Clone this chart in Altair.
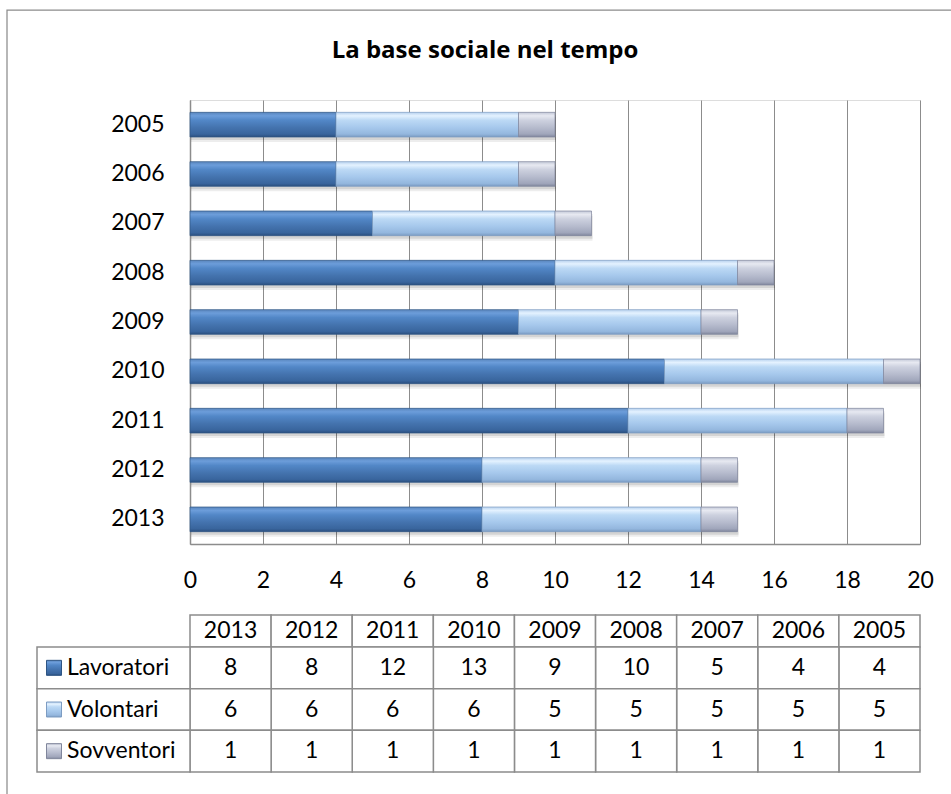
import altair as alt
import pandas as pd

# ---- data -------------------------------------------------------------
years = [2005, 2006, 2007, 2008, 2009, 2010, 2011, 2012, 2013]
lavoratori = [4, 4, 5, 10, 9, 13, 12, 8, 8]
volontari = [5, 5, 5, 5, 5, 6, 6, 6, 6]
sovventori = [1, 1, 1, 1, 1, 1, 1, 1, 1]
series_names = ["Lavoratori", "Volontari", "Sovventori"]
x_ticks = [0, 2, 4, 6, 8, 10, 12, 14, 16, 18, 20]
table_years = years[::-1]          # data table runs 2013 -> 2005

series_values = [lavoratori, volontari, sovventori]
rows = []
for i, yr in enumerate(years):
    for k, name in enumerate(series_names):
        rows.append({"anno": str(yr), "serie": name,
                     "valore": series_values[k][i], "ordine": k})
df = pd.DataFrame(rows)

header_df = pd.DataFrame({"anno": [str(y) for y in table_years], "riga": "anno"})
legend_df = pd.DataFrame({"serie": series_names, "col": "legenda"})

# ---- styling ----------------------------------------------------------
FONT = "Lato"
FS = 23
GRID = "#8c8c8c"
W, H = 730, 444


def grad(stops):
    return alt.Gradient(
        gradient="linear", x1=0, y1=0, x2=0, y2=1,
        stops=[alt.GradientStop(offset=o, color=c) for o, c in stops],
    )


fills = {
    "Lavoratori": (grad([(0, "#5a86bd"), (0.14, "#6c9dda"), (0.32, "#5287c7"),
                         (0.62, "#4473ae"), (0.88, "#39659d"), (1, "#2b4f7e")]),
                   "#2e5584"),
    "Volontari": (grad([(0, "#b7d1ee"), (0.14, "#e4f2ff"), (0.32, "#bcd9f5"),
                        (0.62, "#a6c8ec"), (0.88, "#94b7de"), (1, "#7a9bc2")]),
                  "#7d9cc2"),
    "Sovventori": (grad([(0, "#c3c8d8"), (0.14, "#e7e9f1"), (0.32, "#cdd1df"),
                         (0.62, "#b6bbcd"), (0.88, "#a0a6bb"), (1, "#80869c")]),
                   "#80869c"),
}

# ---- stacked bars -----------------------------------------------------
x_scale = alt.Scale(domain=[0, 20], nice=False, zero=True)
y_scale = alt.Scale(domain=[str(y) for y in years], paddingInner=0.5, paddingOuter=0.25)

x_axis = alt.Axis(values=x_ticks, grid=True, gridColor=GRID, gridWidth=1,
                  domainColor=GRID, domainWidth=1.5, ticks=False,
                  labelFontSize=FS, labelFont=FONT, labelColor="black",
                  labelPadding=25, labelFlush=False, title=None)
y_axis = alt.Axis(ticks=False, domainColor=GRID, domainWidth=1.5, grid=False,
                  labelFontSize=FS, labelFont=FONT, labelColor="black",
                  labelPadding=26, title=None)

stacked = alt.Chart(df).transform_stack(
    stack="valore", groupby=["anno"], as_=["x0", "x1"],
    sort=[alt.SortField("ordine", order="ascending")],
)

shadow_src = stacked.transform_filter(alt.datum.serie == "Sovventori")
shadows = [
    shadow_src.mark_bar(color="#000000", opacity=op, yOffset=off, xOffset=1).encode(
        x=alt.X("x1:Q", scale=x_scale, axis=x_axis),
        y=alt.Y("anno:N", scale=y_scale, axis=y_axis),
    )
    for op, off in [(0.07, 5), (0.10, 3)]
]

bar_layers = []
for name in series_names:
    fill, edge = fills[name]
    bar_layers.append(
        stacked.transform_filter(alt.datum.serie == name)
        .mark_bar(fill=fill, stroke=edge, strokeWidth=1, strokeOpacity=0.7)
        .encode(
            x=alt.X("x0:Q", scale=x_scale, axis=x_axis),
            x2="x1:Q",
            y=alt.Y("anno:N", scale=y_scale, axis=y_axis),
        )
    )

bars = alt.layer(*shadows, *bar_layers)

# ---- data table below the plot -----------------------------------------
tbl_x = alt.Scale(domain=[str(y) for y in table_years], paddingInner=0, paddingOuter=0)
hdr_y = alt.Scale(domain=["anno"], range=[515, 547], paddingInner=0, paddingOuter=0)
body_y = alt.Scale(domain=series_names, range=[547, 672], paddingInner=0, paddingOuter=0)
leg_x = alt.Scale(domain=["legenda"], range=[-153, 0], paddingInner=0, paddingOuter=0)

cell = dict(fill="white", stroke=GRID, strokeWidth=1.5)
txt = dict(font=FONT, fontSize=FS, color="black", baseline="middle")

hdr_base = alt.Chart(header_df).encode(
    x=alt.X("anno:N", scale=tbl_x, axis=None),
    y=alt.Y("riga:N", scale=hdr_y, axis=None),
)
header = alt.layer(
    hdr_base.mark_rect(**cell),
    hdr_base.mark_text(**txt).encode(text="anno:N"),
)

body_base = alt.Chart(df).encode(
    x=alt.X("anno:N", scale=tbl_x, axis=None),
    y=alt.Y("serie:N", scale=body_y, axis=None),
)
body = alt.layer(
    body_base.mark_rect(**cell),
    body_base.mark_text(**txt).encode(text="valore:Q"),
)

leg_base = alt.Chart(legend_df).encode(
    x=alt.X("col:N", scale=leg_x, axis=None, bandPosition=0),
    y=alt.Y("serie:N", scale=body_y, axis=None),
)
leg_layers = [
    alt.Chart(legend_df).mark_rect(**cell).encode(
        x=alt.X("col:N", scale=leg_x, axis=None),
        y=alt.Y("serie:N", scale=body_y, axis=None),
    )
]
for name in series_names:
    fill, edge = fills[name]
    leg_layers.append(
        leg_base.transform_filter(alt.datum.serie == name)
        .mark_square(size=225, fill=fill, stroke=edge, strokeWidth=1,
                     opacity=1, xOffset=17)
    )
leg_layers.append(
    leg_base.mark_text(align="left", dx=30, **txt).encode(text="serie:N")
)
legend = alt.layer(*leg_layers)

# ---- outer chart frame -------------------------------------------------
frame = alt.Chart(pd.DataFrame({"k": [0]})).mark_rect(
    fill="white", fillOpacity=0, stroke=GRID, strokeWidth=1.25
).encode(x=alt.value(-183), x2=alt.value(800), y=alt.value(-90), y2=alt.value(760))

# the frame rect sits 90px above the plot, so the title offset is
# measured from that edge (negative pulls the title back down)
chart = (
    alt.layer(frame, bars, header, body, legend)
    .resolve_scale(x="independent", y="independent")
    .properties(
        width=W, height=H,
        title=alt.Title("La base sociale nel tempo", font="Open Sans", fontSize=24,
                        fontWeight="bold", color="black", anchor="middle",
                        frame="group", dx=-70, offset=-73, baseline="alphabetic"),
        autosize=alt.AutoSizeParams(type="none"),
        padding={"left": 190, "top": 100, "right": 31, "bottom": 250},
    )
    .configure_view(strokeWidth=0)
    .configure(font=FONT, background="white")
)

chart.save("out.html", embed_options={"renderer": "svg", "actions": False})
